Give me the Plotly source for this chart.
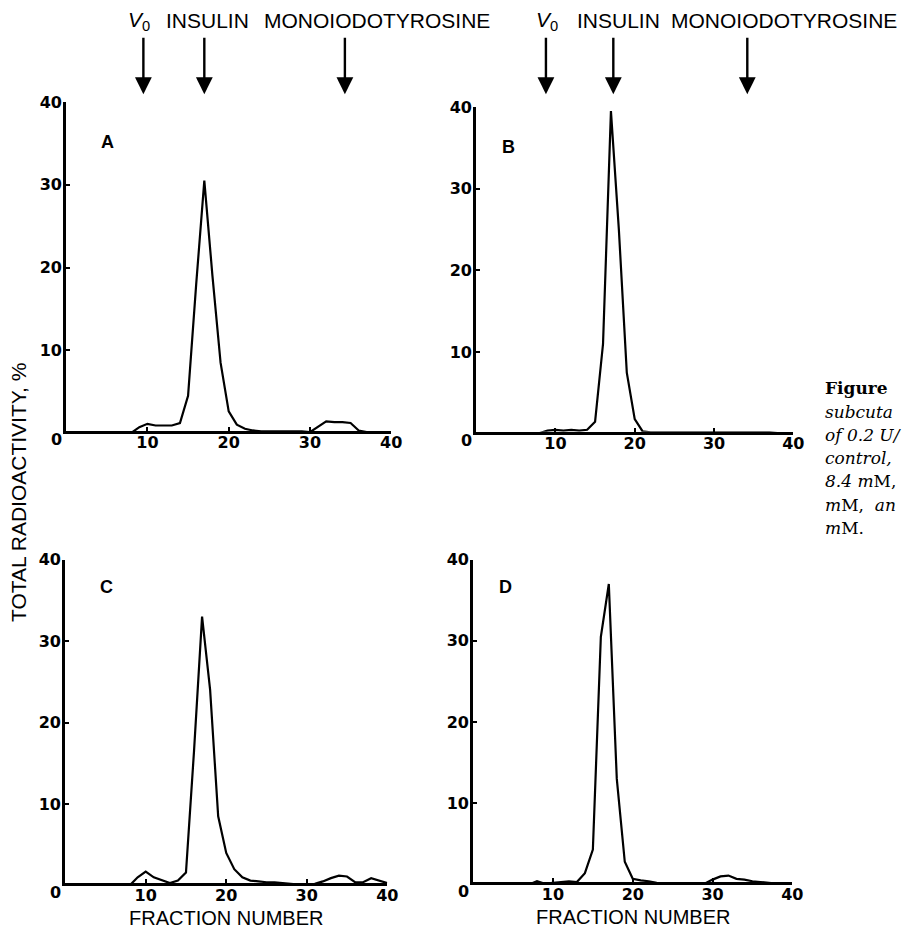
import plotly.graph_objects as go

# ---- data -------------------------------------------------------------
fractions = list(range(1, 41))

panel_a = [0, 0, 0, 0, 0, 0, 0, 0,
           0.7, 1.1, 0.9, 0.9, 0.9, 1.2, 4.5, 18, 30.5, 19, 8.5, 2.6,
           1.0, 0.5, 0.3, 0.2, 0.2, 0.2, 0.2, 0.2, 0.2, 0.1,
           0.8, 1.4, 1.3, 1.3, 1.2, 0.3, 0.1, 0.1, 0, 0]
panel_b = [0, 0, 0, 0, 0, 0, 0, 0.1,
           0.4, 0.5, 0.4, 0.5, 0.4, 0.5, 1.5, 11, 39.5, 25, 7.5, 1.8,
           0.3, 0.2, 0.2, 0.2, 0.2, 0.2, 0.2, 0.2, 0.2, 0.2,
           0.2, 0.2, 0.2, 0.2, 0.2, 0.2, 0.2, 0.1, 0.1, 0]
panel_c = [0, 0, 0, 0, 0, 0, 0, 0,
           1.0, 1.7, 1.0, 0.6, 0.3, 0.6, 1.6, 16.5, 33, 24, 8.5, 4.0,
           2.0, 1.0, 0.6, 0.5, 0.4, 0.4, 0.3, 0.2, 0.1, 0.1,
           0.2, 0.5, 0.9, 1.2, 1.1, 0.4, 0.4, 0.9, 0.6, 0.3]
panel_d = [0, 0, 0, 0, 0, 0, 0, 0.4,
           0.1, 0.2, 0.3, 0.4, 0.3, 1.4, 4.3, 30.5, 37, 13, 2.8, 0.7,
           0.5, 0.4, 0.2, 0.1, 0.1, 0.1, 0.1, 0.1, 0.1, 0.6,
           1.0, 1.1, 0.7, 0.6, 0.4, 0.3, 0.2, 0.1, 0, 0]

panel_letters = ["A", "B", "C", "D"]
tick_values = [10, 20, 30, 40]
origin_label = "0"

# elution markers (fraction numbers) over the left and right columns
marker_names = ["<i>V</i><sub>0</sub>", "INSULIN", "MONOIODOTYROSINE"]
markers_left = [9.5, 17, 34.3]
markers_right = [8.8, 17.3, 34.2]

y_title = "TOTAL RADIOACTIVITY, %"
x_title = "FRACTION NUMBER"

caption_lines = ["<b>Figure</b>", "<i>subcuta</i>", "<i>of 0.2 U/</i>",
                 "<i>control,</i>", "<i>8.4 m</i>M,", "<i>m</i>M,  <i>an</i>",
                 "<i>m</i>M."]

# ---- layout helpers ---------------------------------------------------
W, H = 909, 930


def fx(p):
    return p / W


def fy(p):
    return 1 - p / H


# pixel boxes: left, right, top (value 40), bottom (value 0)
boxes = [(67, 396, 94, 428), (482, 803, 99, 429),
         (66, 392, 556, 885), (479, 802, 556, 884)]
series = [panel_a, panel_b, panel_c, panel_d]

TICK_FONT = dict(family="DejaVu Sans", size=16, color="black", weight="bold")
Y_FLOOR = 0.25  # lets a zero reading sit on the thick baseline

fig = go.Figure()
layout = dict(width=W, height=H, margin=dict(l=0, r=0, t=0, b=0),
              paper_bgcolor="white", plot_bgcolor="white",
              showlegend=False, annotations=[])

for i, (vals, box) in enumerate(zip(series, boxes)):
    n = "" if i == 0 else str(i + 1)
    xa, ya = "x" + n, "y" + n
    fig.add_trace(go.Scatter(x=fractions, y=vals, mode="lines",
                             line=dict(color="black", width=2.2),
                             xaxis=xa, yaxis=ya, hoverinfo="skip"))
    l, r, t, b = box
    axis_common = dict(showgrid=False, zeroline=False, showline=True,
                       linecolor="black", linewidth=3, ticks="inside",
                       ticklen=4, tickwidth=2, tickcolor="black",
                       tickvals=tick_values, ticktext=[str(v) for v in tick_values],
                       tickfont=TICK_FONT, fixedrange=True)
    layout["xaxis" + n] = dict(axis_common, domain=[fx(l), fx(r)],
                               range=[0, 40], anchor=ya, ticklabelstandoff=-5)
    layout["yaxis" + n] = dict(axis_common, domain=[fy(b - 2), fy(t)],
                               range=[Y_FLOOR, 40], anchor=xa,
                               ticklabelstandoff=-2)
    # corner zero
    layout["annotations"].append(dict(
        x=0, y=Y_FLOOR, xref=xa, yref=ya, text=origin_label,
        showarrow=False, xshift=-10, yshift=-9,
        font=TICK_FONT))
    # panel letter
    layout["annotations"].append(dict(
        x=fx(l + 33), y=fy(t + 28), xref="paper", yref="paper",
        text=panel_letters[i], showarrow=False,
        font=dict(family="Liberation Sans", size=18, color="black",
                  weight="bold")))
    if i >= 2:
        layout["annotations"].append(dict(
            x=20, y=Y_FLOOR, xref=xa, yref=ya, text=x_title, showarrow=False,
            yshift=-35, font=dict(family="Liberation Sans", size=20,
                                  color="black")))

# elution markers: labels and arrows
label_x = [(128, 166, 265), (541, 582, 677)]
for col, (marks, xs, axname) in enumerate(
        zip([markers_left, markers_right], label_x, ["x", "x2"])):
    for name, m, lx in zip(marker_names, marks, xs):
        layout["annotations"].append(dict(
            x=fx(lx), y=fy(12), xref="paper", yref="paper", text=name,
            xanchor="left", yanchor="middle", showarrow=False,
            font=dict(family="Liberation Sans", size=21, color="black")))
        layout["annotations"].append(dict(
            x=m, y=fy(86), xref=axname, yref="paper", text="",
            showarrow=True, arrowhead=2, arrowsize=1.4, arrowwidth=2.4,
            arrowcolor="black", ax=0, ay=-58, standoff=0))

# shared vertical axis title
layout["annotations"].append(dict(
    x=fx(19), y=fy(488), xref="paper", yref="paper", text=y_title,
    textangle=-90, showarrow=False, xanchor="center", yanchor="middle",
    font=dict(family="Liberation Sans", size=21, color="black")))

# caption column at the right edge
for k, line in enumerate(caption_lines):
    layout["annotations"].append(dict(
        x=fx(833), y=fy(383 + 23.5 * k), xref="paper", yref="paper",
        text=line, xanchor="left", yanchor="middle", showarrow=False,
        font=dict(family="DejaVu Serif", size=17, color="black")))

fig.update_layout(**layout)
fig.write_html("out.html")
